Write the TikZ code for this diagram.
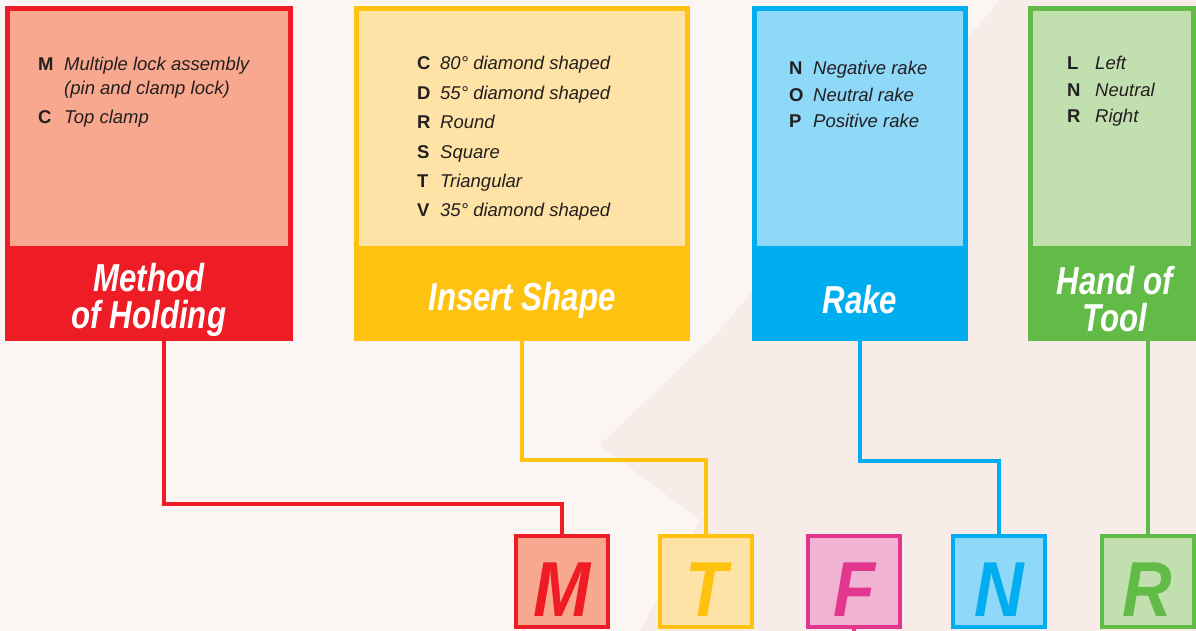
\documentclass[tikz,border=0pt]{standalone}
\usepackage{fontspec}
\setmainfont{Liberation Sans}
\usetikzlibrary{calc, positioning}

\definecolor{bgPaper}{HTML}{FBF6F4}
\definecolor{bgShade}{HTML}{F7ECE7}
\definecolor{textDark}{HTML}{231F20}
\definecolor{holdDark}{HTML}{EE1C25}
\definecolor{holdLight}{HTML}{F8A88E}
\definecolor{shapeDark}{HTML}{FFC20E}
\definecolor{shapeLight}{HTML}{FFE3A6}
\definecolor{rakeDark}{HTML}{00AEEF}
\definecolor{rakeLight}{HTML}{8ED8F8}
\definecolor{handDark}{HTML}{62BB46}
\definecolor{handLight}{HTML}{C2E0AF}
\definecolor{clearDark}{HTML}{E2368F}
\definecolor{clearLight}{HTML}{F0B3D2}

\newcommand{\narrow}[1]{\scalebox{0.8}[1]{#1}}
\newcommand{\codeglyph}[1]{\scalebox{0.88}[1]{#1}}

\tikzset{
  headbox/.style={fill=#1, minimum height=335, inner sep=0, outer sep=0},
  headtitle/.style={text=white, inner sep=0, align=center,
    font=\fontsize{39}{37}\selectfont\bfseries\itshape},
  codelist/.style={anchor=base west, inner sep=0, text=textDark,
    font=\fontsize{18.5}{#1}\selectfont},
  letterbox/.style={draw=#1Dark, fill=#1Light, line width=4,
    minimum width=92, minimum height=91, inner sep=0, outer sep=0},
  codeletter/.style={text=#1Dark, inner sep=0, anchor=base,
    font=\fontsize{78}{78}\selectfont\bfseries\itshape},
  link/.style={draw=#1Dark, line width=4},
}

\begin{document}
\begin{tikzpicture}[x=1pt, y=-1pt]

% paper and faint photo behind
\useasboundingbox (0,0) rectangle (1196,631);
\fill[bgPaper] (0,0) rectangle (1196,631);
\fill[bgShade] (1000,0) -- (1196,0) -- (1196,631) -- (640,631) -- (700,520)
  -- (600,445) -- (720,330) -- cycle;

% header boxes
\node[headbox=holdDark, minimum width=288] (holding) at (149,173.5) {};
\node[headbox=shapeDark, minimum width=336] (shape) at (522,173.5) {};
\node[headbox=rakeDark, minimum width=216] (rake) at (860,173.5) {};
\node[headbox=handDark, minimum width=168] (hand) at (1112,173.5) {};

\foreach \name/\col in {holding/hold, shape/shape, rake/rake, hand/hand}
  \fill[\col Light] ([shift={(5,5)}]\name.north west)
    rectangle ([shift={(-5,-95)}]\name.south east);

% titles
\node[headtitle] (holdTitle) at ([yshift=41]holding.south)
  {\narrow{Method}\\\narrow{of Holding}};
\node[headtitle] (shapeTitle) at ([yshift=41]shape.south) {\narrow{Insert Shape}};
\node[headtitle] (rakeTitle) at ([yshift=41]rake.south) {\narrow{Rake}};
\node[headtitle] (handTitle) at ([xshift=3, yshift=42]hand.south)
  {\narrow{Hand of}\\\narrow{Tool}};

% code lists
\node[codelist=24] (holdList) at (38,71) {\begin{tabular}[t]{@{}p{26pt}@{}l@{}}
  \textbf{M} & \textit{Multiple lock assembly}\\
             & \textit{(pin and clamp lock)}\\[5pt]
  \textbf{C} & \textit{Top clamp}
\end{tabular}};
\node[codelist=29.4] (shapeList) at (417,70) {\begin{tabular}[t]{@{}p{23pt}@{}l@{}}
  \textbf{C} & \textit{80° diamond shaped}\\
  \textbf{D} & \textit{55° diamond shaped}\\
  \textbf{R} & \textit{Round}\\
  \textbf{S} & \textit{Square}\\
  \textbf{T} & \textit{Triangular}\\
  \textbf{V} & \textit{35° diamond shaped}
\end{tabular}};
\node[codelist=26.5] (rakeList) at (789,75) {\begin{tabular}[t]{@{}p{24pt}@{}l@{}}
  \textbf{N} & \textit{Negative rake}\\
  \textbf{O} & \textit{Neutral rake}\\
  \textbf{P} & \textit{Positive rake}
\end{tabular}};
\node[codelist=26.5] (handList) at (1067,70) {\begin{tabular}[t]{@{}p{28pt}@{}l@{}}
  \textbf{L} & \textit{Left}\\
  \textbf{N} & \textit{Neutral}\\
  \textbf{R} & \textit{Right}
\end{tabular}};

% code boxes and letters
\foreach \name/\col/\xpos/\glyph in {mLetter/hold/562/M, tLetter/shape/706/T,
    fLetter/clear/854/F, nLetter/rake/999/N, rLetter/hand/1147.5/R} {
  \node[letterbox=\col] (\name) at (\xpos,581.5) {};
  \node[codeletter=\col] (\name Glyph) at (\xpos,616) {\codeglyph{\glyph}};
}

% connectors
\draw[link=hold] ([xshift=15]holding.south) -- ++(0,162.5) -| (mLetter.north);
\draw[link=shape] (shape.south) -- ++(0,118.5) -| (tLetter.north);
\draw[link=rake] (rake.south) -- ++(0,119.5) -| (nLetter.north);
\draw[link=hand] (rLetter.north |- hand.south) -- (rLetter.north);
\coordinate (fOut) at (fLetter.south |- 0,640);
\draw[link=clear] (fLetter.south) -- (fOut);

\end{tikzpicture}
\end{document}
